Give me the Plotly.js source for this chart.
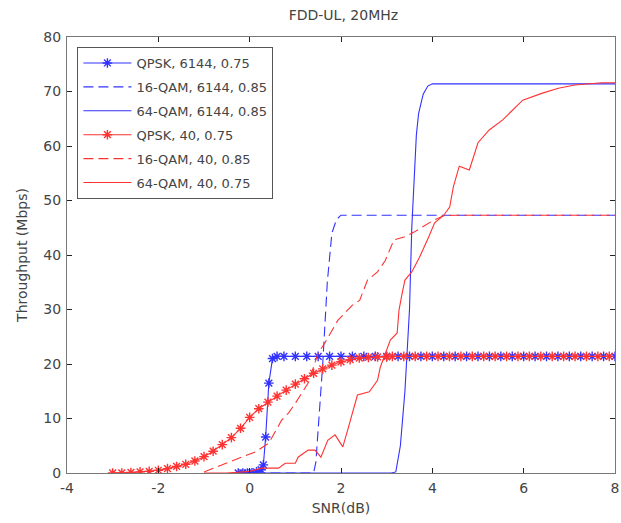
<!DOCTYPE html>
<html><head><meta charset="utf-8">
<script src="https://cdn.plot.ly/plotly-3.0.1.min.js"></script>
<style>html,body{margin:0;padding:0;background:#fff}#chart{width:621px;height:523px}</style>
</head><body><div id="chart"></div>
<script>
// QPSK, 6144, 0.75 (blue, markers)
const qpsk6144X = [-0.25,-0.15,-0.05,0.05,0.15,0.25,0.3,0.35,0.42,0.5,0.6,0.75,1,1.25,1.5,1.75,2,2.25,2.5,2.75,3,3.25,3.5,3.75,4,4.25,4.5,4.75,5,5.25,5.5,5.75,6,6.25,6.5,6.75,7,7.25,7.5,7.75,8];
const qpsk6144Y = [0,0,0,0.05,0.2,0.6,1.5,6.6,16.5,21.0,21.4,21.4,21.4,21.4,21.4,21.4,21.4,21.4,21.4,21.4,21.4,21.4,21.4,21.4,21.4,21.4,21.4,21.4,21.4,21.4,21.4,21.4,21.4,21.4,21.4,21.4,21.4,21.4,21.4,21.4,21.4];
// 16-QAM, 6144, 0.85 (blue dashed)
const qam16_6144X = [-0.2,1.4,1.45,1.5,1.55,1.6,1.7,1.8,1.9,2.0,8];
const qam16_6144Y = [0,0,2,8,14,20,35,44,46.5,47.3,47.3];
// 64-QAM, 6144, 0.85 (blue solid)
const qam64_6144X = [-0.2,3.1,3.2,3.3,3.4,3.5,3.55,3.6,3.65,3.7,3.8,3.9,4.0,8];
const qam64_6144Y = [0,0,0.2,5,15,30,45,55,62,66,69.5,71,71.4,71.4];
// QPSK, 40, 0.75 (red, markers)
const qpsk40X = [-3,-2.8,-2.6,-2.4,-2.2,-2,-1.8,-1.6,-1.4,-1.2,-1,-0.8,-0.6,-0.4,-0.2,0,0.2,0.4,0.6,0.8,1,1.2,1.4,1.6,1.8,2,2.2,2.4,2.6,2.8,3,3.125,3.375,3.625,3.875,4.125,4.375,4.625,4.875,5.125,5.375,5.625,5.875,6.125,6.375,6.625,6.875,7.125,7.375,7.625,7.875];
const qpsk40Y = [0,0,0.1,0.2,0.3,0.5,0.8,1.2,1.6,2.2,3.0,4.0,5.2,6.5,8.2,10.2,11.8,13.0,14.1,15.2,16.3,17.3,18.3,19.1,19.8,20.4,20.8,21.1,21.2,21.3,21.3,21.4,21.4,21.4,21.4,21.4,21.4,21.4,21.4,21.4,21.4,21.4,21.4,21.4,21.4,21.4,21.4,21.4,21.4,21.4,21.4];
// 16-QAM, 40, 0.85 (red dashed)
const qam16_40X = [-1,-0.6,-0.3,0.13,0.42,0.7,0.85,1.0,1.28,1.5,1.65,1.93,2.1,2.25,2.41,2.58,2.8,2.97,3.16,3.38,3.6,3.84,4.03,4.25,4.53,8];
const qam16_40Y = [0.2,1.5,2.4,3.9,5.5,9.7,11,12.8,16.5,22,23.9,28,29.5,30.8,31.7,35.4,36.9,39,42.8,43.3,44.2,45.5,46.4,47.2,47.3,47.3];
// 64-QAM, 40, 0.75 (red solid)
const qam64_40X = [-1,-0.5,0,0.26,0.63,0.78,1.0,1.06,1.28,1.43,1.56,1.71,1.87,2.04,2.15,2.25,2.36,2.62,2.8,2.86,3.08,3.23,3.27,3.34,3.4,3.55,3.72,3.92,4.05,4.25,4.38,4.46,4.59,4.81,5.0,5.24,5.54,5.98,6.41,6.76,7.12,7.71,8];
const qam64_40Y = [0,0,0.3,0.9,0.9,1.8,1.8,2.9,4.2,4.2,2.9,6,7,4.8,8,11,14.3,14.9,17,19.4,24.4,25.7,29.9,33,35.4,36.9,39.6,43.3,45.9,47.3,48.8,52.5,56.3,55.6,60.6,62.9,64.8,68.4,69.7,70.6,71.2,71.6,71.6];

const names = ['QPSK, 6144, 0.75','16-QAM, 6144, 0.85','64-QAM, 6144, 0.85','QPSK, 40, 0.75','16-QAM, 40, 0.85','64-QAM, 40, 0.75'];
const xTickVals = [-4,-2,0,2,4,6,8];
const xTickText = ['-4','-2','0','2','4','6','8'];
const yTickVals = [0,10,20,30,40,50,60,70,80];

const BLUE = 'rgb(50,50,255)', RED = 'rgb(255,50,50)';
const dash = '10px,5px';
function mk(x, y, name, color, opts, g) {
  const t = {x:x, y:y, name:name, type:'scatter', legendgroup:g,
    line:{color:color, width:1.1, dash:opts.dash || 'solid'},
    mode: opts.marker ? 'lines+markers' : 'lines'};
  if (opts.marker) t.marker = {symbol:'asterisk-open', size:8, color:color, line:{color:color, width:1.4}};
  return t;
}
const traces = [
  mk(qpsk6144X,qpsk6144Y,names[0],BLUE,{marker:true},'a'),
  mk(qam16_6144X,qam16_6144Y,names[1],BLUE,{dash:dash},'b'),
  mk(qam64_6144X,qam64_6144Y,names[2],BLUE,{},'c'),
  mk(qpsk40X,qpsk40Y,names[3],RED,{marker:true},'d'),
  mk(qam16_40X,qam16_40Y,names[4],RED,{dash:dash},'e'),
  mk(qam64_40X,qam64_40Y,names[5],RED,{},'f')
];
const TXT = '#444';
const FONT = 'DejaVu Sans, Liberation Sans, sans-serif';
const axisCommon = {showline:true,mirror:'ticks',ticks:'inside',ticklen:5,tickwidth:1,tickcolor:'#222',
  linecolor:'#777',linewidth:1,showgrid:false,zeroline:false,ticklabeloverflow:'allow',
  tickfont:{family:FONT,size:14,color:TXT}};
const layout = {
  width:621,height:523,
  margin:{l:67,r:6,t:37,b:50},
  paper_bgcolor:'#fff',plot_bgcolor:'#fff',
  font:{family:FONT,size:14,color:TXT},
  title:{text:'FDD-UL, 20MHz',x:0.553,xanchor:'center',y:0.972,yanchor:'middle',font:{family:FONT,size:14,color:TXT}},
  xaxis:Object.assign({},axisCommon,{range:[-4,8],tickvals:xTickVals,ticktext:xTickText,ticklabelstandoff:2,
    title:{text:'SNR(dB)',standoff:8,font:{family:FONT,size:14,color:TXT}}}),
  yaxis:Object.assign({},axisCommon,{range:[0,80],tickvals:yTickVals,ticklabelstandoff:2,
    title:{text:'Throughput (Mbps)',standoff:12,font:{family:FONT,size:14,color:TXT}}}),
  showlegend:true,
  legend:{x:0.019,y:0.977,xanchor:'left',yanchor:'top',bgcolor:'#fff',bordercolor:'#555',borderwidth:1,
    font:{family:FONT,size:13,color:TXT},traceorder:'grouped',tracegroupgap:4,itemwidth:48}
};
Plotly.newPlot('chart',traces,layout,{displayModeBar:false,staticPlot:true});
</script></body></html>
